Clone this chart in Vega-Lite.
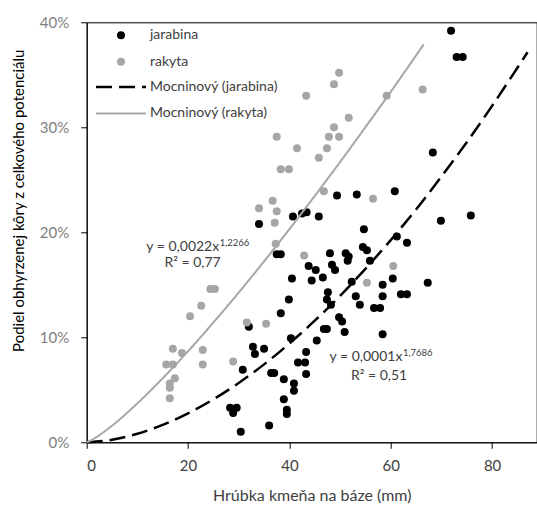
{
  "$schema": "https://vega.github.io/schema/vega-lite/v6.json",
  "autosize": {"type": "none"},
  "padding": {"left": 86.7, "top": 22.3, "right": 0, "bottom": 63.7},
  "width": 450,
  "height": 420,
  "background": "white",
  "config": {
    "font": "Lato",
    "view": {"stroke": "#000000", "strokeWidth": 1},
    "axis": {"grid": false, "domainColor": "#000000", "tickColor": "#000000", "labelFont": "Lato", "titleFont": "Lato", "titleFontWeight": "normal"}
  },
  "datasets": {
    "points": [
      {"series": "jarabina", "x": 71.9, "y": 0.392},
      {"series": "jarabina", "x": 73.0, "y": 0.367},
      {"series": "jarabina", "x": 74.2, "y": 0.367},
      {"series": "jarabina", "x": 68.3, "y": 0.276},
      {"series": "jarabina", "x": 49.4, "y": 0.235},
      {"series": "jarabina", "x": 53.3, "y": 0.236},
      {"series": "jarabina", "x": 60.8, "y": 0.239},
      {"series": "jarabina", "x": 40.7, "y": 0.215},
      {"series": "jarabina", "x": 42.5, "y": 0.218},
      {"series": "jarabina", "x": 43.4, "y": 0.219},
      {"series": "jarabina", "x": 45.8, "y": 0.215},
      {"series": "jarabina", "x": 69.9, "y": 0.211},
      {"series": "jarabina", "x": 75.8, "y": 0.216},
      {"series": "jarabina", "x": 34.0, "y": 0.208},
      {"series": "jarabina", "x": 54.7, "y": 0.203},
      {"series": "jarabina", "x": 61.2, "y": 0.196},
      {"series": "jarabina", "x": 63.2, "y": 0.190},
      {"series": "jarabina", "x": 54.5, "y": 0.186},
      {"series": "jarabina", "x": 55.3, "y": 0.183},
      {"series": "jarabina", "x": 37.5, "y": 0.179},
      {"series": "jarabina", "x": 38.3, "y": 0.179},
      {"series": "jarabina", "x": 48.0, "y": 0.180},
      {"series": "jarabina", "x": 51.1, "y": 0.180},
      {"series": "jarabina", "x": 51.7, "y": 0.177},
      {"series": "jarabina", "x": 51.5, "y": 0.173},
      {"series": "jarabina", "x": 55.9, "y": 0.173},
      {"series": "jarabina", "x": 43.8, "y": 0.168},
      {"series": "jarabina", "x": 45.2, "y": 0.164},
      {"series": "jarabina", "x": 48.4, "y": 0.169},
      {"series": "jarabina", "x": 49.0, "y": 0.164},
      {"series": "jarabina", "x": 40.5, "y": 0.156},
      {"series": "jarabina", "x": 44.4, "y": 0.154},
      {"series": "jarabina", "x": 46.6, "y": 0.157},
      {"series": "jarabina", "x": 52.3, "y": 0.153},
      {"series": "jarabina", "x": 58.4, "y": 0.150},
      {"series": "jarabina", "x": 60.4, "y": 0.156},
      {"series": "jarabina", "x": 67.3, "y": 0.152},
      {"series": "jarabina", "x": 39.9, "y": 0.136},
      {"series": "jarabina", "x": 47.6, "y": 0.143},
      {"series": "jarabina", "x": 47.4, "y": 0.136},
      {"series": "jarabina", "x": 53.1, "y": 0.139},
      {"series": "jarabina", "x": 58.4, "y": 0.139},
      {"series": "jarabina", "x": 62.0, "y": 0.141},
      {"series": "jarabina", "x": 63.2, "y": 0.141},
      {"series": "jarabina", "x": 48.2, "y": 0.131},
      {"series": "jarabina", "x": 53.9, "y": 0.131},
      {"series": "jarabina", "x": 56.7, "y": 0.128},
      {"series": "jarabina", "x": 57.9, "y": 0.128},
      {"series": "jarabina", "x": 38.3, "y": 0.123},
      {"series": "jarabina", "x": 49.8, "y": 0.119},
      {"series": "jarabina", "x": 50.4, "y": 0.115},
      {"series": "jarabina", "x": 50.9, "y": 0.105},
      {"series": "jarabina", "x": 46.8, "y": 0.108},
      {"series": "jarabina", "x": 47.4, "y": 0.108},
      {"series": "jarabina", "x": 58.4, "y": 0.103},
      {"series": "jarabina", "x": 32.0, "y": 0.110},
      {"series": "jarabina", "x": 40.3, "y": 0.099},
      {"series": "jarabina", "x": 45.4, "y": 0.097},
      {"series": "jarabina", "x": 32.8, "y": 0.091},
      {"series": "jarabina", "x": 33.2, "y": 0.084},
      {"series": "jarabina", "x": 35.0, "y": 0.089},
      {"series": "jarabina", "x": 43.3, "y": 0.086},
      {"series": "jarabina", "x": 41.7, "y": 0.076},
      {"series": "jarabina", "x": 43.1, "y": 0.076},
      {"series": "jarabina", "x": 43.3, "y": 0.065},
      {"series": "jarabina", "x": 30.8, "y": 0.069},
      {"series": "jarabina", "x": 36.4, "y": 0.066},
      {"series": "jarabina", "x": 37.0, "y": 0.066},
      {"series": "jarabina", "x": 38.9, "y": 0.060},
      {"series": "jarabina", "x": 40.9, "y": 0.056},
      {"series": "jarabina", "x": 40.9, "y": 0.049},
      {"series": "jarabina", "x": 38.9, "y": 0.041},
      {"series": "jarabina", "x": 39.5, "y": 0.031},
      {"series": "jarabina", "x": 39.5, "y": 0.027},
      {"series": "jarabina", "x": 28.3, "y": 0.033},
      {"series": "jarabina", "x": 29.6, "y": 0.033},
      {"series": "jarabina", "x": 28.9, "y": 0.028},
      {"series": "jarabina", "x": 36.0, "y": 0.016},
      {"series": "jarabina", "x": 30.4, "y": 0.010},
      {"series": "rakyta", "x": 49.8, "y": 0.352},
      {"series": "rakyta", "x": 48.8, "y": 0.341},
      {"series": "rakyta", "x": 43.3, "y": 0.330},
      {"series": "rakyta", "x": 59.2, "y": 0.330},
      {"series": "rakyta", "x": 66.3, "y": 0.336},
      {"series": "rakyta", "x": 51.7, "y": 0.309},
      {"series": "rakyta", "x": 48.8, "y": 0.300},
      {"series": "rakyta", "x": 47.8, "y": 0.291},
      {"series": "rakyta", "x": 49.8, "y": 0.291},
      {"series": "rakyta", "x": 37.5, "y": 0.291},
      {"series": "rakyta", "x": 41.5, "y": 0.280},
      {"series": "rakyta", "x": 47.4, "y": 0.280},
      {"series": "rakyta", "x": 45.8, "y": 0.271},
      {"series": "rakyta", "x": 38.3, "y": 0.260},
      {"series": "rakyta", "x": 39.9, "y": 0.260},
      {"series": "rakyta", "x": 46.8, "y": 0.239},
      {"series": "rakyta", "x": 56.5, "y": 0.232},
      {"series": "rakyta", "x": 36.7, "y": 0.230},
      {"series": "rakyta", "x": 34.0, "y": 0.223},
      {"series": "rakyta", "x": 37.5, "y": 0.220},
      {"series": "rakyta", "x": 37.1, "y": 0.209},
      {"series": "rakyta", "x": 37.3, "y": 0.189},
      {"series": "rakyta", "x": 42.9, "y": 0.178},
      {"series": "rakyta", "x": 24.4, "y": 0.146},
      {"series": "rakyta", "x": 25.3, "y": 0.146},
      {"series": "rakyta", "x": 22.6, "y": 0.130},
      {"series": "rakyta", "x": 20.4, "y": 0.120},
      {"series": "rakyta", "x": 31.6, "y": 0.114},
      {"series": "rakyta", "x": 35.4, "y": 0.113},
      {"series": "rakyta", "x": 60.5, "y": 0.168},
      {"series": "rakyta", "x": 55.3, "y": 0.152},
      {"series": "rakyta", "x": 28.9, "y": 0.077},
      {"series": "rakyta", "x": 17.0, "y": 0.089},
      {"series": "rakyta", "x": 18.8, "y": 0.085},
      {"series": "rakyta", "x": 22.9, "y": 0.088},
      {"series": "rakyta", "x": 22.9, "y": 0.074},
      {"series": "rakyta", "x": 15.7, "y": 0.074},
      {"series": "rakyta", "x": 17.0, "y": 0.074},
      {"series": "rakyta", "x": 17.4, "y": 0.061},
      {"series": "rakyta", "x": 16.4, "y": 0.056},
      {"series": "rakyta", "x": 16.4, "y": 0.052},
      {"series": "rakyta", "x": 16.4, "y": 0.042}
    ],
    "trend": [
      {"series": "Mocninový (jarabina)", "x": 0, "y": 0},
      {"series": "Mocninový (jarabina)", "x": 5, "y": 0.0024},
      {"series": "Mocninový (jarabina)", "x": 10, "y": 0.0081},
      {"series": "Mocninový (jarabina)", "x": 15, "y": 0.0166},
      {"series": "Mocninový (jarabina)", "x": 20, "y": 0.0276},
      {"series": "Mocninový (jarabina)", "x": 25, "y": 0.0409},
      {"series": "Mocninový (jarabina)", "x": 30, "y": 0.0565},
      {"series": "Mocninový (jarabina)", "x": 35, "y": 0.0742},
      {"series": "Mocninový (jarabina)", "x": 40, "y": 0.0941},
      {"series": "Mocninový (jarabina)", "x": 45, "y": 0.1158},
      {"series": "Mocninový (jarabina)", "x": 50, "y": 0.1395},
      {"series": "Mocninový (jarabina)", "x": 55, "y": 0.1652},
      {"series": "Mocninový (jarabina)", "x": 60, "y": 0.1926},
      {"series": "Mocninový (jarabina)", "x": 65, "y": 0.2218},
      {"series": "Mocninový (jarabina)", "x": 70, "y": 0.2531},
      {"series": "Mocninový (jarabina)", "x": 75, "y": 0.2858},
      {"series": "Mocninový (jarabina)", "x": 80, "y": 0.3204},
      {"series": "Mocninový (jarabina)", "x": 85, "y": 0.3567},
      {"series": "Mocninový (jarabina)", "x": 87, "y": 0.3715},
      {"series": "Mocninový (rakyta)", "x": 0, "y": 0},
      {"series": "Mocninový (rakyta)", "x": 1, "y": 0.0022},
      {"series": "Mocninový (rakyta)", "x": 2, "y": 0.0052},
      {"series": "Mocninový (rakyta)", "x": 5, "y": 0.0158},
      {"series": "Mocninový (rakyta)", "x": 10, "y": 0.0371},
      {"series": "Mocninový (rakyta)", "x": 15, "y": 0.0610},
      {"series": "Mocninový (rakyta)", "x": 20, "y": 0.0867},
      {"series": "Mocninový (rakyta)", "x": 25, "y": 0.1141},
      {"series": "Mocninový (rakyta)", "x": 30, "y": 0.1426},
      {"series": "Mocninový (rakyta)", "x": 35, "y": 0.1723},
      {"series": "Mocninový (rakyta)", "x": 40, "y": 0.2030},
      {"series": "Mocninový (rakyta)", "x": 45, "y": 0.2346},
      {"series": "Mocninový (rakyta)", "x": 50, "y": 0.2669},
      {"series": "Mocninový (rakyta)", "x": 55, "y": 0.3001},
      {"series": "Mocninový (rakyta)", "x": 60, "y": 0.3338},
      {"series": "Mocninový (rakyta)", "x": 66.5, "y": 0.3790}
    ],
    "labels": [
      {"part": "eq", "x": 26.15, "y": 0.182, "text": "y = 0,0022x"},
      {"part": "exp", "x": 26.15, "y": 0.182, "text": "1,2266"},
      {"part": "r2", "x": 20.9, "y": 0.167, "text": "R² = 0,77"},
      {"part": "eq", "x": 62.3, "y": 0.077, "text": "y = 0,0001x"},
      {"part": "exp", "x": 62.3, "y": 0.077, "text": "1,7686"},
      {"part": "r2", "x": 57.7, "y": 0.059, "text": "R² = 0,51"}
    ]
  },
  "layer": [
    {
      "data": {"name": "points"},
      "mark": {"type": "circle", "size": 64, "opacity": 1},
      "encoding": {
        "x": {"field": "x", "type": "quantitative",
          "scale": {"domain": [0, 88.8], "nice": false, "zero": false},
          "axis": {"values": [0, 20, 40, 60, 80], "title": "Hrúbka kmeňa na báze (mm)", "labelFontSize": 15, "labelColor": "#404040", "titleFontSize": 16, "titleColor": "#404040", "tickSize": 6, "labelPadding": 10, "titlePadding": 14}},
        "y": {"field": "y", "type": "quantitative",
          "scale": {"domain": [0, 0.4], "nice": false},
          "axis": {"values": [0, 0.1, 0.2, 0.3, 0.4], "format": ".0%", "title": "Podiel obhyrzenej kôry z celkového potenciálu", "labelFontSize": 15, "labelColor": "#7f7f7f", "titleFontSize": 15, "titleColor": "#000000", "tickSize": 6, "labelPadding": 12, "titleX": -68, "titleY": 178, "titleAngle": -90, "titleBaseline": "middle", "titleAlign": "center"}},
        "color": {"field": "series", "type": "nominal",
          "scale": {"domain": ["jarabina", "rakyta"], "range": ["#000000", "#a6a6a6"]},
          "legend": {
            "title": null, "orient": "none", "legendX": 27.3, "legendY": 6, "padding": 0,
            "symbolSize": 64, "labelOffset": 22, "rowPadding": 12.5, "symbolOpacity": 1,
            "labelFont": "Lato", "labelFontSize": 14, "labelColor": "#404040"
          }}
      }
    },
    {
      "data": {"name": "trend"},
      "mark": {"type": "line", "interpolate": "monotone"},
      "encoding": {
        "x": {"field": "x", "type": "quantitative"},
        "y": {"field": "y", "type": "quantitative"},
        "stroke": {"field": "series", "type": "nominal",
          "scale": {"domain": ["Mocninový (jarabina)", "Mocninový (rakyta)"], "range": ["#000000", "#a6a6a6"]},
          "legend": {
            "title": null, "orient": "none", "legendX": 27.3, "legendY": 57.6, "padding": 0,
            "symbolType": "M-6.25,0L6.25,0", "symbolSize": 64, "labelOffset": 22, "rowPadding": 12.5,
            "symbolFillColor": "transparent",
            "labelFont": "Lato", "labelFontSize": 14, "labelColor": "#404040"
          }},
        "strokeDash": {"field": "series", "type": "nominal",
          "scale": {"domain": ["Mocninový (jarabina)", "Mocninový (rakyta)"], "range": [[16, 7], [1, 0]]}},
        "strokeWidth": {"field": "series", "type": "nominal",
          "scale": {"domain": ["Mocninový (jarabina)", "Mocninový (rakyta)"], "range": [2.5, 2]}}
      }
    },
    {
      "data": {"name": "labels"},
      "transform": [{"filter": "datum.part == 'eq'"}],
      "mark": {"type": "text", "align": "right", "baseline": "alphabetic", "fontSize": 14, "color": "#404040", "font": "Lato"},
      "encoding": {
        "x": {"field": "x", "type": "quantitative"},
        "y": {"field": "y", "type": "quantitative"},
        "text": {"field": "text"}
      }
    },
    {
      "data": {"name": "labels"},
      "transform": [{"filter": "datum.part == 'exp'"}],
      "mark": {"type": "text", "align": "left", "baseline": "alphabetic", "fontSize": 9.5, "dy": -5, "dx": 0.5, "color": "#404040", "font": "Lato"},
      "encoding": {
        "x": {"field": "x", "type": "quantitative"},
        "y": {"field": "y", "type": "quantitative"},
        "text": {"field": "text"}
      }
    },
    {
      "data": {"name": "labels"},
      "transform": [{"filter": "datum.part == 'r2'"}],
      "mark": {"type": "text", "align": "center", "baseline": "alphabetic", "fontSize": 14, "color": "#404040", "font": "Lato"},
      "encoding": {
        "x": {"field": "x", "type": "quantitative"},
        "y": {"field": "y", "type": "quantitative"},
        "text": {"field": "text"}
      }
    }
  ]
}
